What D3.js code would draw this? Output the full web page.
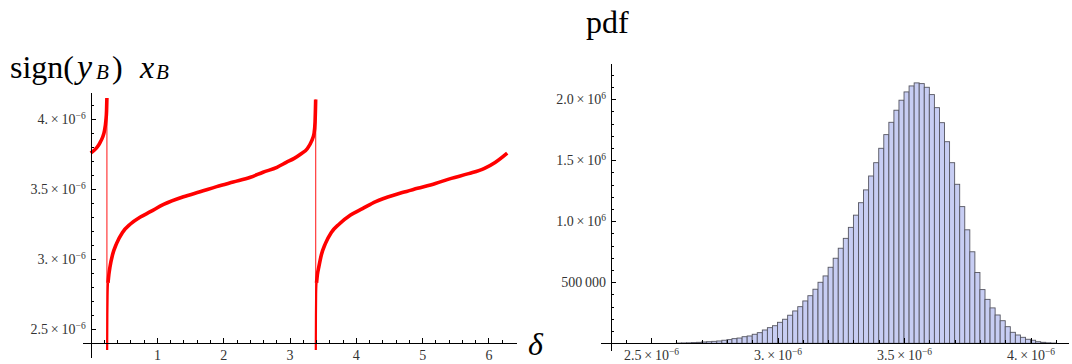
<!DOCTYPE html>
<html>
<head>
<meta charset="utf-8">
<title>x_B vs delta and its pdf</title>
<script src="https://d3js.org/d3.v7.min.js"></script>
<style type="text/css">
    body { margin: 0; background: #fff; }
    svg { display: block; }
    .axis path, .axis line { stroke: #000; stroke-width: 1px; shape-rendering: crispEdges; }
    .axis text { font-family: "Liberation Serif", "DejaVu Serif", serif; font-size: 14px; fill: #333; }
    .title { font-family: "Liberation Serif", serif; font-size: 32px; fill: #000; }
    .bar { fill: #c7cdf3; stroke: #555560; stroke-width: 0.9px; }
</style>
</head>
<body>
<script type="text/javascript">

    // ---- left panel: sign(yB) xB against delta, branches
    var branchA = [ [0, 3.757e-6], [0.05, 3.775e-6], [0.1, 3.80e-6], [0.14, 3.83e-6], [0.18, 3.87e-6],
                    [0.21, 3.92e-6], [0.23, 3.99e-6], [0.24, 4.06e-6], [0.245, 4.15e-6] ];

    var branchB = [ [0.262, 2.83e-6], [0.275, 2.89e-6], [0.29, 2.94e-6],
                    [0.33, 3.03e-6], [0.39, 3.11e-6], [0.48, 3.19e-6], [0.6, 3.25e-6], [0.75, 3.30e-6],
                    [0.9, 3.338e-6], [1.1, 3.39e-6], [1.4, 3.445e-6], [1.65, 3.48e-6], [1.9, 3.517e-6],
                    [2.15, 3.55e-6], [2.41, 3.584e-6], [2.6, 3.62e-6], [2.81, 3.655e-6], [2.95, 3.69e-6],
                    [3.07, 3.719e-6], [3.17, 3.75e-6], [3.27, 3.79e-6], [3.33, 3.84e-6], [3.37, 3.898e-6],
                    [3.385, 3.98e-6], [3.39, 4.06e-6], [3.394, 4.14e-6] ];

    var branchC = [ [3.407, 2.83e-6], [3.42, 2.89e-6], [3.44, 2.94e-6],
                    [3.48, 3.03e-6], [3.54, 3.11e-6], [3.63, 3.19e-6], [3.75, 3.25e-6], [3.92, 3.314e-6],
                    [4.1, 3.36e-6], [4.3, 3.41e-6], [4.43, 3.434e-6], [4.7, 3.475e-6], [4.93, 3.505e-6],
                    [5.2, 3.54e-6], [5.44, 3.576e-6], [5.7, 3.61e-6], [5.94, 3.648e-6], [6.1, 3.69e-6],
                    [6.283, 3.757e-6] ];

    // steep bottom ends of branches B and C, drawn thinner as in the plot
    var tailB = [ [0.249, 2.35e-6], [0.252, 2.6e-6], [0.256, 2.75e-6], [0.262, 2.83e-6] ];
    var tailC = [ [3.396, 2.35e-6], [3.398, 2.6e-6], [3.401, 2.75e-6], [3.407, 2.83e-6] ];

    var jumps = [ [0.245, 4.15e-6, 2.35e-6], [3.394, 4.14e-6, 2.35e-6] ];

    var leftXTicks = [1, 2, 3, 4, 5, 6];
    var leftYTicks = [2.5e-6, 3e-6, 3.5e-6, 4e-6];
    var leftYMant  = ["2.5", "3.", "3.5", "4."];

    // ---- right panel: histogram of xB
    var binLo = [2.60, 2.62, 2.64, 2.66, 2.68, 2.70, 2.72, 2.74, 2.76, 2.78,
                 2.80, 2.82, 2.84, 2.86, 2.88, 2.90, 2.92, 2.94, 2.96, 2.98,
                 3.00, 3.02, 3.04, 3.06, 3.08, 3.10, 3.12, 3.14, 3.16, 3.18,
                 3.20, 3.22, 3.24, 3.26, 3.28, 3.30, 3.32, 3.34, 3.36, 3.38,
                 3.40, 3.42, 3.44, 3.46, 3.48, 3.50, 3.52, 3.54, 3.56, 3.58,
                 3.60, 3.62, 3.64, 3.66, 3.68, 3.70, 3.72, 3.74, 3.76, 3.78,
                 3.80, 3.82, 3.84, 3.86, 3.88, 3.90, 3.92, 3.94, 3.96, 3.98,
                 4.00, 4.02, 4.04, 4.06, 4.08];
    var binWidth = 0.02;   // in units of 1e-6

    var pdfValues = [2000, 3000, 4000, 6000, 8000, 11000, 13000, 16000, 19000, 25000,
                     30000, 38000, 43000, 54000, 60000, 74000, 87000, 109000, 128000, 144000,
                     172000, 197000, 230000, 265000, 300000, 347000, 390000, 443000, 500000, 552000,
                     623000, 697000, 779000, 860000, 950000, 1050000, 1152000, 1257000, 1371000, 1480000,
                     1598000, 1710000, 1811000, 1910000, 1992000, 2060000, 2109000, 2134000, 2128000, 2098000,
                     2038000, 1931000, 1808000, 1652000, 1480000, 1303000, 1120000, 930000, 750000, 580000,
                     440000, 360000, 290000, 232000, 185000, 136000, 90000, 68000, 49000, 33000,
                     25000, 13000, 8000, 4000, 2000];

    var rightXTicks = [2.5e-6, 3e-6, 3.5e-6, 4e-6];
    var rightXMant  = ["2.5", "3.", "3.5", "4."];
    var rightYTicks = [500000, 1000000, 1500000, 2000000];
    var rightYMant  = ["500\u2009000", "1.0", "1.5", "2.0"];

    var width = 1072,
        height = 364;

    var svg = d3.select("body")
              .append("svg")
                .attr("width", width)
                .attr("height", height);

    // writes "m×10^e" into a tick label
    function sciLabel(text, mant, exp) {
        text.text(null);
        text.append("tspan").text(mant);
        if (exp === null) return;
        text.append("tspan").text("\u2009\u00d7\u200910");
        text.append("tspan")
            .attr("dy", "-0.5em")
            .style("font-size", "9.5px")
            .text(exp);
    }

    // ============ left panel ============
    var xL = d3.scaleLinear().domain([-0.12, 6.42]).range([82.7, 516.3]);
    var yL = d3.scaleLinear().domain([2.3e-6, 4.193e-6]).range([357, 92]);

    var gL = svg.append("g");

    var line = d3.line()
        .x(function(d) { return xL(d[0]); })
        .y(function(d) { return yL(d[1]); })
        .curve(d3.curveMonotoneX);

    gL.selectAll("line.jump")
      .data(jumps).enter()
      .append("line")
        .attr("class", "jump")
        .attr("x1", function(d) { return xL(d[0]); })
        .attr("x2", function(d) { return xL(d[0]); })
        .attr("y1", function(d) { return yL(d[1]); })
        .attr("y2", function(d) { return yL(d[2]); })
        .style("stroke", "#ff3a3a")
        .style("stroke-width", 1.2);

    gL.selectAll("path.tail")
      .data([tailB, tailC]).enter()
      .append("path")
        .attr("class", "tail")
        .attr("d", line)
        .style("fill", "none")
        .style("stroke", "#ff0000")
        .style("stroke-width", 2.2);

    gL.selectAll("path.branch")
      .data([branchA, branchB, branchC]).enter()
      .append("path")
        .attr("class", "branch")
        .attr("d", line)
        .style("fill", "none")
        .style("stroke", "#ff0000")
        .style("stroke-width", 3.6)
        .style("stroke-linejoin", "round");

    var leftXMinor = d3.range(1, 32).filter(function(i) { return i % 5 !== 0; }).map(function(i) { return i / 5; });
    var leftYMinor = d3.range(26, 42).filter(function(i) { return i % 5 !== 0; }).map(function(i) { return i / 10 * 1e-6; });

    gL.append("g")
        .attr("class", "axis")
        .attr("transform", "translate(0," + yL(2.4e-6) + ")")
        .call(d3.axisBottom(xL).tickValues(leftXMinor).tickSize(-3).tickSizeOuter(0).tickFormat(""));
    gL.append("g")
        .attr("class", "axis")
        .attr("transform", "translate(0," + yL(2.4e-6) + ")")
        .call(d3.axisBottom(xL).tickValues(leftXTicks).tickSize(-5).tickSizeOuter(0).tickPadding(7).tickFormat(d3.format("d")));

    gL.append("g")
        .attr("class", "axis")
        .attr("transform", "translate(" + xL(0) + ",0)")
        .call(d3.axisLeft(yL).tickValues(leftYMinor).tickSize(-3).tickSizeOuter(0).tickFormat(""));
    var yAxL = gL.append("g")
        .attr("class", "axis")
        .attr("transform", "translate(" + xL(0) + ",0)")
        .call(d3.axisLeft(yL).tickValues(leftYTicks).tickSize(-5).tickSizeOuter(0).tickPadding(5));
    yAxL.selectAll(".tick text").each(function(d, i) {
        sciLabel(d3.select(this), leftYMant[i], "\u22126");
    });

    var t1 = svg.append("text").attr("class", "title").attr("y", 78);
    t1.append("tspan").attr("x", 10).text("sign(");
    t1.append("tspan").attr("x", 77).style("font-style", "italic").style("font-size", "34px").text("y");
    t1.append("tspan").attr("x", 96).style("font-style", "italic").style("font-size", "21px").attr("dy", 1).text("B");
    t1.append("tspan").attr("x", 112).attr("dy", -1).text(")");
    t1.append("tspan").attr("x", 140).style("font-style", "italic").text("x");
    t1.append("tspan").attr("x", 156).style("font-style", "italic").style("font-size", "21px").attr("dy", 1).text("B");

    svg.append("text")
        .attr("class", "title")
        .attr("x", 528).attr("y", 355)
        .style("font-style", "italic")
        .text("\u03b4");

    // ============ right panel ============
    var xR = d3.scaleLinear().domain([2.30e-6, 4.15e-6]).range([600.4, 1068.5]);
    var yR = d3.scaleLinear().domain([-55000, 2297000]).range([350, 63]);

    var gR = svg.append("g");

    gR.selectAll("rect.bar")
      .data(pdfValues).enter()
      .append("rect")
        .attr("class", "bar")
        .attr("x", function(d, i) { return xR(binLo[i] * 1e-6); })
        .attr("width", function(d, i) { return xR((binLo[i] + binWidth) * 1e-6) - xR(binLo[i] * 1e-6); })
        .attr("y", function(d) { return yR(d); })
        .attr("height", function(d) { return yR(0) - yR(d); });

    var rightXMinor = d3.range(24, 42).filter(function(i) { return i % 5 !== 0; }).map(function(i) { return i / 10 * 1e-6; });
    var rightYMinor = d3.range(1, 23).filter(function(i) { return i % 5 !== 0; }).map(function(i) { return i * 100000; });

    gR.append("g")
        .attr("class", "axis")
        .attr("transform", "translate(0," + yR(0) + ")")
        .call(d3.axisBottom(xR).tickValues(rightXMinor).tickSize(-3).tickSizeOuter(0).tickFormat(""));
    var xAxR = gR.append("g")
        .attr("class", "axis")
        .attr("transform", "translate(0," + yR(0) + ")")
        .call(d3.axisBottom(xR).tickValues(rightXTicks).tickSize(-5).tickSizeOuter(0).tickPadding(7));
    xAxR.selectAll(".tick text").each(function(d, i) {
        sciLabel(d3.select(this), rightXMant[i], "\u22126");
    });

    gR.append("g")
        .attr("class", "axis")
        .attr("transform", "translate(" + xR(2.342e-6) + ",0)")
        .call(d3.axisLeft(yR).tickValues(rightYMinor).tickSize(-3).tickSizeOuter(0).tickFormat(""));
    var yAxR = gR.append("g")
        .attr("class", "axis")
        .attr("transform", "translate(" + xR(2.342e-6) + ",0)")
        .call(d3.axisLeft(yR).tickValues(rightYTicks).tickSize(-5).tickSizeOuter(0).tickPadding(5));
    yAxR.selectAll(".tick text").each(function(d, i) {
        sciLabel(d3.select(this), rightYMant[i], i === 0 ? null : "6");
    });

    svg.append("text")
        .attr("class", "title")
        .attr("x", 586).attr("y", 33)
        .text("pdf");

</script>
</body>
</html>
